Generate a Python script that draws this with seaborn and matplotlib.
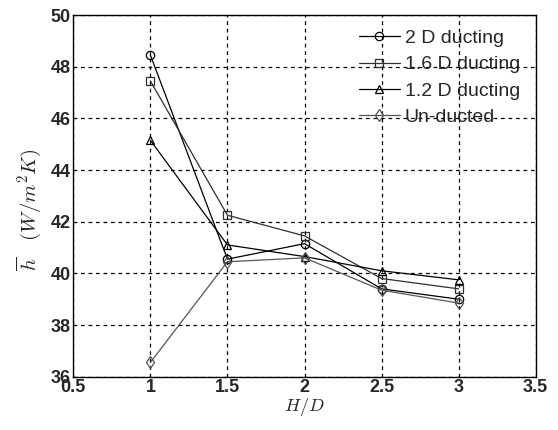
import numpy as np
import pandas as pd
import matplotlib
matplotlib.use("Agg")
import matplotlib.pyplot as plt
import seaborn as sns

hd = [1.0, 1.5, 2.0, 2.5, 3.0]
duct_2d = [48.45, 40.55, 41.15, 39.40, 39.00]
duct_16d = [47.45, 42.25, 41.45, 39.80, 39.40]
duct_12d = [45.15, 41.10, 40.65, 40.10, 39.75]
unducted = [36.55, 40.45, 40.60, 39.35, 38.85]
series_names = ["2 D ducting", "1.6 D ducting", "1.2 D ducting", "Un-ducted"]

sns.set_theme(style="white")
plt.rcParams['font.family'] = ['Liberation Sans', 'DejaVu Sans']
plt.rcParams['mathtext.fontset'] = 'cm'

df = pd.DataFrame({
    "H/D": hd * 4,
    "h": duct_2d + duct_16d + duct_12d + unducted,
    "series": sum([[n] * len(hd) for n in series_names], []),
})

fig = plt.figure(figsize=(5.58, 4.30), dpi=100)
ax = fig.add_axes([0.1314, 0.124, 0.8286, 0.841])

colors = {"2 D ducting": "#000000", "1.6 D ducting": "#303030",
          "1.2 D ducting": "#000000", "Un-ducted": "#555555"}
markers = {"2 D ducting": "o", "1.6 D ducting": "s",
           "1.2 D ducting": "^", "Un-ducted": "d"}

sns.lineplot(data=df, x="H/D", y="h", hue="series", style="series",
             palette=colors, markers=markers, dashes=False,
             hue_order=series_names, style_order=series_names,
             linewidth=0.9, markersize=6,
             markeredgewidth=0.9, ax=ax, legend=True)
for line in ax.get_lines():
    line.set_markerfacecolor("none")
    line.set_markeredgecolor(line.get_color())

ax.set_xlim(0.5, 3.5)
ax.set_ylim(36, 50)
ax.set_xticks([0.5, 1, 1.5, 2, 2.5, 3, 3.5])
ax.set_xticklabels(["0.5", "1", "1.5", "2", "2.5", "3", "3.5"])
ax.set_yticks([36, 38, 40, 42, 44, 46, 48, 50])
for lab in ax.get_xticklabels() + ax.get_yticklabels():
    lab.set_fontweight("bold")
    lab.set_fontsize(13)
ax.tick_params(axis="both", which="both", length=0, pad=2)
ax.grid(True, color="black", linestyle=(0, (3, 3)), linewidth=0.9)
for s in ax.spines.values():
    s.set_color("black")
    s.set_linewidth(1.0)

ax.set_xlabel(r"$H/D$", fontsize=13, labelpad=0)
ax.set_ylabel(r"$\overline{h}\ \ \ (W/m^2K)$", fontsize=15)
ax.yaxis.set_label_coords(-0.066, 0.46)

leg = ax.legend(loc="upper right", frameon=False, fontsize=14,
                handlelength=2.1, handletextpad=0.25, labelspacing=0.45,
                borderaxespad=0.25, bbox_to_anchor=(0.993, 0.995))
for h in leg.legend_handles:
    h.set_markerfacecolor("none")
    h.set_markeredgecolor(h.get_color())
    h.set_markersize(6)
    h.set_markeredgewidth(0.9)

fig.savefig("out.png", dpi=100)
